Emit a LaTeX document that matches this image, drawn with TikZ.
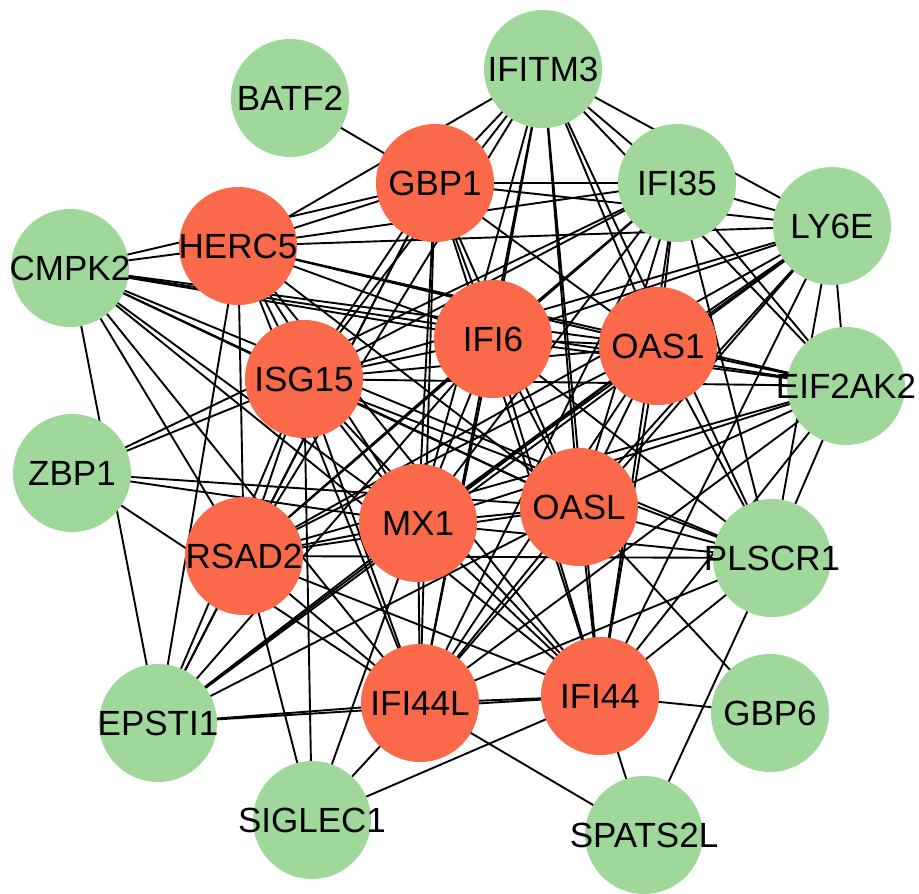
\documentclass[tikz,border=0pt]{standalone}
\usepackage{fontspec}
\setmainfont{Liberation Sans}
\usetikzlibrary{backgrounds}
\definecolor{gcol}{RGB}{160,216,155}
\definecolor{rcol}{RGB}{250,106,74}
\begin{document}
\begin{tikzpicture}[x=1pt,y=-1pt,
  gn/.style={circle,fill=gcol,minimum size=118pt,inner sep=0pt,
    label={[font=\fontsize{35}{40}\selectfont,inner sep=0pt]center:#1}},
  rn/.style={circle,fill=rcol,minimum size=118pt,inner sep=0pt,
    label={[font=\fontsize{35}{40}\selectfont,inner sep=0pt]center:#1}},
  edge/.style={line width=1.9pt,black}]
\useasboundingbox (0,0) rectangle (919,894);
\node[gn=IFITM3]  (IFITM3)  at (543,69)  {};
\node[gn=BATF2]   (BATF2)   at (290,98)  {};
\node[rn=GBP1]    (GBP1)    at (435,183) {};
\node[gn=IFI35]   (IFI35)   at (677,183) {};
\node[gn=LY6E]    (LY6E)    at (832,226) {};
\node[rn=HERC5]   (HERC5)   at (238,246) {};
\node[gn=CMPK2]   (CMPK2)   at (70,268)  {};
\node[rn=IFI6]    (IFI6)    at (493,339) {};
\node[rn=OAS1]    (OAS1)    at (658,346) {};
\node[gn=EIF2AK2] (EIF2AK2) at (846,386) {};
\node[rn=ISG15]   (ISG15)   at (304,379) {};
\node[gn=ZBP1]    (ZBP1)    at (72,473)  {};
\node[rn=MX1]     (MX1)     at (418,523) {};
\node[rn=OASL]    (OASL)    at (579,507) {};
\node[rn=RSAD2]   (RSAD2)   at (244,556) {};
\node[gn=PLSCR1]  (PLSCR1)  at (772,558) {};
\node[gn=EPSTI1]  (EPSTI1)  at (158,723) {};
\node[rn=IFI44L]  (IFI44L)  at (420,703) {};
\node[rn=IFI44]   (IFI44)   at (600,696) {};
\node[gn=GBP6]    (GBP6)    at (770,713) {};
\node[gn=SIGLEC1] (SIGLEC1) at (312,820) {};
\node[gn=SPATS2L] (SPATS2L) at (644,835) {};
\begin{scope}[on background layer]
\foreach \a/\b in {
 GBP1/HERC5, GBP1/IFI6, GBP1/OAS1, GBP1/ISG15, GBP1/MX1, GBP1/OASL, GBP1/RSAD2, GBP1/IFI44L, GBP1/IFI44,
 HERC5/IFI6, HERC5/OAS1, HERC5/ISG15, HERC5/MX1, HERC5/OASL, HERC5/RSAD2, HERC5/IFI44L, HERC5/IFI44,
 IFI6/OAS1, IFI6/ISG15, IFI6/MX1, IFI6/OASL, IFI6/RSAD2, IFI6/IFI44L, IFI6/IFI44,
 OAS1/ISG15, OAS1/MX1, OAS1/OASL, OAS1/RSAD2, OAS1/IFI44L, OAS1/IFI44,
 ISG15/MX1, ISG15/OASL, ISG15/RSAD2, ISG15/IFI44L, ISG15/IFI44,
 MX1/OASL, MX1/RSAD2, MX1/IFI44L, MX1/IFI44,
 OASL/RSAD2, OASL/IFI44L, OASL/IFI44,
 RSAD2/IFI44L, RSAD2/IFI44, IFI44L/IFI44,
 BATF2/GBP1,
 IFITM3/GBP1, IFITM3/HERC5, IFITM3/ISG15, IFITM3/RSAD2, IFITM3/IFI6, IFITM3/MX1, IFITM3/IFI44L,
 IFITM3/OASL, IFITM3/IFI44, IFITM3/OAS1, IFITM3/IFI35, IFITM3/LY6E, IFITM3/EIF2AK2, IFITM3/PLSCR1,
 IFI35/GBP1, IFI35/HERC5, IFI35/IFI6, IFI35/ISG15, IFI35/RSAD2, IFI35/MX1, IFI35/OASL, IFI35/OAS1,
 IFI35/IFI44L, IFI35/IFI44, IFI35/LY6E, IFI35/EIF2AK2, IFI35/PLSCR1, IFI35/ZBP1,
 LY6E/GBP1, LY6E/HERC5, LY6E/IFI6, LY6E/ISG15, LY6E/OAS1, LY6E/MX1, LY6E/OASL, LY6E/RSAD2,
 LY6E/EPSTI1, LY6E/IFI44, LY6E/IFI44L, LY6E/EIF2AK2, LY6E/PLSCR1,
 EIF2AK2/HERC5, EIF2AK2/CMPK2, EIF2AK2/IFI6, EIF2AK2/ISG15, EIF2AK2/OAS1, EIF2AK2/MX1,
 EIF2AK2/OASL, EIF2AK2/RSAD2, EIF2AK2/IFI44, EIF2AK2/IFI44L, EIF2AK2/PLSCR1,
 CMPK2/HERC5, CMPK2/GBP1, CMPK2/IFI6, CMPK2/OAS1, CMPK2/ISG15, CMPK2/PLSCR1, CMPK2/MX1,
 CMPK2/IFI44, CMPK2/IFI44L, CMPK2/RSAD2, CMPK2/EPSTI1, CMPK2/OASL,
 ZBP1/ISG15, ZBP1/OASL, ZBP1/MX1, ZBP1/IFI44L,
 PLSCR1/IFI6, PLSCR1/OAS1, PLSCR1/OASL, PLSCR1/MX1, PLSCR1/ISG15, PLSCR1/RSAD2, PLSCR1/IFI44,
 PLSCR1/IFI44L, PLSCR1/SPATS2L,
 EPSTI1/HERC5, EPSTI1/RSAD2, EPSTI1/ISG15, EPSTI1/GBP1, EPSTI1/IFI6, EPSTI1/MX1, EPSTI1/OAS1,
 EPSTI1/OASL, EPSTI1/IFI44L, EPSTI1/IFI44,
 GBP6/IFI44, GBP6/OASL,
 SIGLEC1/RSAD2, SIGLEC1/ISG15, SIGLEC1/MX1, SIGLEC1/IFI44L, SIGLEC1/IFI44,
 SPATS2L/IFI44, SPATS2L/IFI44L}
 \draw[edge] (\a.center) -- (\b.center);
\end{scope}
\end{tikzpicture}
\end{document}
